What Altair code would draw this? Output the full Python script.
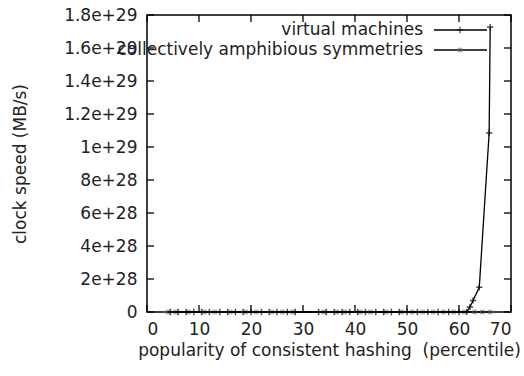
import altair as alt
import pandas as pd

FONT = "DejaVu Sans"
FS = 17

# series names
series_names = ["virtual machines", "collectively amphibious symmetries"]

# virtual machines: percentile vs clock speed (MB/s)
vm_x = [4.5, 6.0, 7.5, 9.0, 10.5, 12.0, 14.0, 15.5, 17.0, 18.5, 20.0, 22.0,
        23.5, 25.0, 27.0, 28.5, 33.0, 34.5, 36.0, 37.5, 39.0, 40.5, 42.0,
        44.0, 45.5, 47.0, 48.5, 50.0, 52.0, 54.0, 56.0, 58.0, 60.0, 61.5,
        62.1, 62.7, 63.9, 65.8, 66.0]
vm_y = [0, 0, 0, 0, 0, 0, 0, 0, 0, 0, 0, 0,
        0, 0, 0, 0, 0, 0, 0, 0, 0, 0, 0,
        0, 0, 0, 0, 0, 0, 0, 0, 0, 0, 1e26,
        3e27, 7e27, 1.5e28, 1.085e29, 1.727e29]

# collectively amphibious symmetries
cas_x = [4.0, 5.5, 8.0, 11.0, 13.0, 16.0, 19.0, 21.0, 24.0, 26.0, 28.0,
         34.0, 36.5, 38.0, 41.0, 43.0, 46.0, 49.0, 51.0, 53.0, 55.0, 57.0,
         59.0, 61.0, 63.0, 64.5, 66.0]
cas_y = [0, 0, 0, 0, 0, 0, 0, 0, 0, 0, 0,
         0, 0, 0, 0, 0, 0, 0, 0, 0, 0, 0,
         0, 0, 0, 0, 0]

# axis ticks
x_ticks = [0, 10, 20, 30, 40, 50, 60, 70]
y_ticks = [0, 2e28, 4e28, 6e28, 8e28, 1e29, 1.2e29, 1.4e29, 1.6e29, 1.8e29]

W, H = 364, 297
TICK = 7
PLUS = "M-1,0L1,0M0,-1L0,1"

vm = pd.DataFrame({"x": vm_x, "y": vm_y})
cas = pd.DataFrame({"x": cas_x, "y": cas_y})

xscale = alt.Scale(domain=[0, 70], nice=False, zero=False)
yscale = alt.Scale(domain=[0, 1.8e29], nice=False)

x_axis = alt.Axis(
    values=x_ticks, ticks=False, grid=False, domain=False, labelOverlap=False,
    labelFont=FONT, labelFontSize=FS, labelColor="#222", labelPadding=9,
    title="popularity of consistent hashing\u00a0 (percentile)",
    titleFont=FONT, titleFontSize=FS, titleFontWeight="normal",
    titleColor="#222", titlePadding=5,
)
y_axis = alt.Axis(
    values=y_ticks, ticks=False, grid=False, domain=False, labelOverlap=False,
    labelFont=FONT, labelFontSize=FS, labelColor="#222", labelPadding=10,
    labelExpr="datum.value == 0 ? '0' : format(datum.value, '~e')",
    title="clock speed (MB/s)",
    titleFont=FONT, titleFontSize=FS, titleFontWeight="normal",
    titleColor="#222", titleX=-122, titleY=H / 2, titleAngle=-90,
    titleBaseline="alphabetic", titleAlign="center",
)

X = alt.X("x:Q", scale=xscale, axis=x_axis)
Y = alt.Y("y:Q", scale=yscale, axis=y_axis)

cas_line = alt.Chart(cas).mark_line(color="black", strokeWidth=1.3).encode(
    x=X, y=Y)
cas_pts = alt.Chart(cas).mark_point(
    shape="square", filled=False, color="#777", size=12, strokeWidth=1.2
).encode(x=X, y=Y)

vm_line = alt.Chart(vm).mark_line(color="black", strokeWidth=1.3).encode(
    x=X, y=Y)
vm_pts = alt.Chart(vm).mark_point(
    shape=PLUS, filled=False, color="black", size=40, strokeWidth=1.4
).encode(x=X, y=Y)

# inward tick marks on all four sides
ydf = pd.DataFrame({"v": y_ticks})
xdf = pd.DataFrame({"v": x_ticks})
tick_style = dict(color="black", strokeWidth=1.3)
TY = alt.Y("v:Q", scale=yscale, axis=y_axis)
TX = alt.X("v:Q", scale=xscale, axis=x_axis)
left_ticks = alt.Chart(ydf).mark_rule(**tick_style).encode(
    y=TY, x=alt.value(0), x2=alt.value(TICK))
right_ticks = alt.Chart(ydf).mark_rule(**tick_style).encode(
    y=TY, x=alt.value(W - TICK), x2=alt.value(W))
top_ticks = alt.Chart(xdf).mark_rule(**tick_style).encode(
    x=TX, y=alt.value(0), y2=alt.value(TICK))
bottom_ticks = alt.Chart(xdf).mark_rule(**tick_style).encode(
    x=TX, y=alt.value(H - TICK), y2=alt.value(H))


# key in the upper right corner
def key_entry(name, ypos, shape, color, size):
    d = pd.DataFrame({"label": [name]})
    txt = alt.Chart(d).mark_text(
        align="right", baseline="middle", font=FONT, fontSize=FS, color="#222"
    ).encode(text="label:N", x=alt.value(276), y=alt.value(ypos))
    seg = alt.Chart(d).mark_rule(color="black", strokeWidth=1.3).encode(
        x=alt.value(287), x2=alt.value(340), y=alt.value(ypos))
    mk = alt.Chart(d).mark_point(
        shape=shape, filled=False, color=color, size=size, strokeWidth=1.2
    ).encode(x=alt.value(313), y=alt.value(ypos))
    return [txt, seg, mk]


key = key_entry(series_names[0], 15, PLUS, "black", 40) + \
      key_entry(series_names[1], 35, "square", "#777", 12)

chart = alt.layer(
    cas_line, cas_pts, vm_line, vm_pts,
    left_ticks, right_ticks, top_ticks, bottom_ticks,
    *key,
).properties(
    width=W, height=H,
    autosize=alt.AutoSizeParams(type="none"),
    padding={"left": 147, "top": 15, "right": 13, "bottom": 64},
    background="white",
).configure_view(
    stroke="black", strokeWidth=1.5
).configure_axis(labelOverlap=False)

chart.save("out.html", embed_options={"renderer": "svg", "actions": False})
